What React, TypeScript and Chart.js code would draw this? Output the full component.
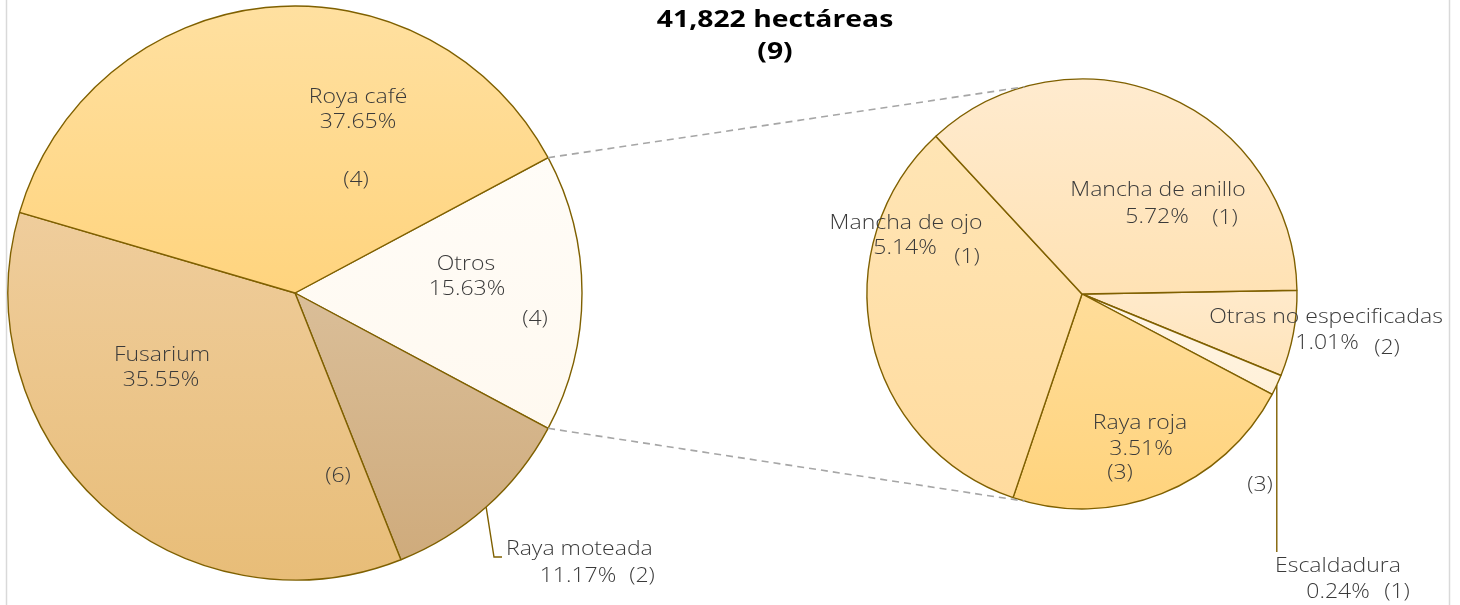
import React, { useEffect, useRef } from "react";
import { Chart, registerables } from "chart.js";
Chart.register(...registerables);

// ---------------- DATA ----------------
const titleLines = ["41,822 hectáreas", "(9)"];

const mainLabels = ["Otros", "Raya moteada", "Fusarium", "Roya café"];
const mainValues = [15.63, 11.17, 35.55, 37.65];
const mainCounts = ["(4)", "(2)", "(6)", "(4)"];

const subLabels = ["Otras no especificadas", "Escaldadura", "Raya roja", "Mancha de ojo", "Mancha de anillo"];
const subValues = [1.01, 0.24, 3.51, 5.14, 5.72];
const subCounts = ["(2)", "(1)", "(3)", "(1)", "(1)"];
const subExtraLabel = "(3)";

// ---------------- STYLE / LAYOUT ----------------
const W = 1460;
const H = 605;
const BORDER = "#7F6000";
const TEXT = "#3A3A3A";
const LABEL_FONT = '300 20px "Open Sans", sans-serif';
const LABEL_STRETCH = 1.15;
const TITLE_FONT = 'bold 24px "Open Sans", sans-serif';
const TITLE_STRETCH = 1.18;

const mainColors = [
  ["#FFFCF7", "#FFF9F0"],
  ["#DABE98", "#CFAB7C"],
  ["#EFCD9C", "#E8BD78"],
  ["#FFE0A0", "#FFD47E"],
];
const subColors = [
  ["#FFEACB", "#FFE4BA"],
  ["#FFF6E6", "#FFF0D8"],
  ["#FFDD9A", "#FFD37C"],
  ["#FFE5B5", "#FFDB9E"],
  ["#FFEBCF", "#FFE2B4"],
];

const MAIN_CX = 295, MAIN_CY = 293, MAIN_R = 287;
const SUB_CX = 1082, SUB_CY = 294, SUB_R = 215;
const mainRotation = 90 - (180 * mainValues[0]) / mainValues.reduce((a, b) => a + b, 0);
const subRotation = 89;
const connectorAngles = [-105.5, 105.5];

type Txt = { dx: number; dy: number; align?: CanvasTextAlign };
type Lay = { name: Txt; pct: Txt; count: Txt };

const mainLayout: Lay[] = [
  { name: { dx: 171, dy: -29 }, pct: { dx: 172, dy: -4 }, count: { dx: 240, dy: 26 } },
  { name: { dx: 211, dy: 256, align: "left" }, pct: { dx: 283, dy: 283 }, count: { dx: 347, dy: 283 } },
  { name: { dx: -133, dy: 62 }, pct: { dx: -134, dy: 87 }, count: { dx: 43, dy: 183 } },
  { name: { dx: 63, dy: -196 }, pct: { dx: 63, dy: -171 }, count: { dx: 61, dy: -113 } },
];
const subLayout: Lay[] = [
  { name: { dx: 244, dy: 23 }, pct: { dx: 245, dy: 49 }, count: { dx: 305, dy: 54 } },
  { name: { dx: 256, dy: 272 }, pct: { dx: 256, dy: 298 }, count: { dx: 315, dy: 298 } },
  { name: { dx: 58, dy: 129 }, pct: { dx: 59, dy: 155 }, count: { dx: 38, dy: 179 } },
  { name: { dx: -176, dy: -71 }, pct: { dx: -177, dy: -46 }, count: { dx: -115, dy: -37 } },
  { name: { dx: 76, dy: -104 }, pct: { dx: 75, dy: -77 }, count: { dx: 143, dy: -76 } },
];
const subExtraPos = { dx: 178, dy: 191 };

const mainLeader = { index: 1, points: [{ dx: 199, dy: 264 }, { dx: 207, dy: 264 }] };
const subLeaderIndex = 1;
const subLeaderBottom = 258;

// ---------------- HELPERS ----------------
function sliceBounds(cy: number, r: number, a0: number, a1: number) {
  const ys = [cy, cy + r * Math.sin(a0), cy + r * Math.sin(a1)];
  for (const t of [-Math.PI / 2, Math.PI / 2]) {
    for (let k = -2; k <= 2; k++) {
      const a = t + 2 * Math.PI * k;
      if (a >= a0 && a <= a1) ys.push(cy + r * Math.sin(a));
    }
  }
  return [Math.min(...ys), Math.max(...ys)];
}

function makeFill(colors: string[][], values: number[], rotationDeg: number, radius: number) {
  return (c: any) => {
    const chart = c.chart;
    const area = chart.chartArea;
    const i = c.dataIndex;
    if (i === undefined) return colors[0][0];
    if (!area) return colors[i][0];
    const cy = (area.top + area.bottom) / 2;
    const total = values.reduce((a, b) => a + b, 0);
    let start = ((rotationDeg - 90) * Math.PI) / 180;
    for (let k = 0; k < i; k++) start += (2 * Math.PI * values[k]) / total;
    const end = start + (2 * Math.PI * values[i]) / total;
    const [y0, y1] = sliceBounds(cy, radius, start, end);
    const g = chart.ctx.createLinearGradient(0, y0, 0, y1 + 0.01);
    g.addColorStop(0, colors[i][0]);
    g.addColorStop(1, colors[i][1]);
    return g;
  };
}

function drawText(
  ctx: CanvasRenderingContext2D,
  s: string,
  x: number,
  y: number,
  align: CanvasTextAlign = "center",
  stretch = LABEL_STRETCH
) {
  ctx.save();
  ctx.translate(x, y);
  ctx.scale(stretch, 1);
  ctx.textAlign = align;
  ctx.fillText(s, 0, 0);
  ctx.restore();
}

function drawSliceLabels(chart: any, labels: string[], values: number[], counts: string[], layout: Lay[]) {
  const ctx: CanvasRenderingContext2D = chart.ctx;
  const arc: any = chart.getDatasetMeta(0).data[0];
  const cx = arc.x, cy = arc.y;
  ctx.save();
  ctx.fillStyle = TEXT;
  ctx.font = LABEL_FONT;
  ctx.textBaseline = "middle";
  labels.forEach((lab, i) => {
    const L = layout[i];
    drawText(ctx, lab, cx + L.name.dx, cy + L.name.dy, L.name.align);
    drawText(ctx, values[i].toFixed(2) + "%", cx + L.pct.dx, cy + L.pct.dy, L.pct.align);
    drawText(ctx, counts[i], cx + L.count.dx, cy + L.count.dy, L.count.align);
  });
  ctx.restore();
}

function edgePoint(arc: any, angle: number) {
  return { x: arc.x + arc.outerRadius * Math.cos(angle), y: arc.y + arc.outerRadius * Math.sin(angle) };
}

// ---------------- COMPONENT ----------------
export default function App() {
  const mainRef = useRef<HTMLCanvasElement>(null);
  const subRef = useRef<HTMLCanvasElement>(null);

  useEffect(() => {
    document.body.style.margin = "0";
    const link: { main: Chart | null } = { main: null };

    const mainChart = new Chart(mainRef.current!, {
      type: "pie",
      data: {
        labels: mainLabels,
        datasets: [
          {
            data: mainValues,
            backgroundColor: makeFill(mainColors, mainValues, mainRotation, MAIN_R) as any,
            borderColor: BORDER,
            borderWidth: 1.4,
            radius: MAIN_R,
            rotation: mainRotation,
          } as any,
        ],
      },
      options: {
        responsive: false,
        animation: false,
        devicePixelRatio: 1,
        events: [],
        layout: {
          padding: {
            left: MAIN_CX - MAIN_R,
            right: W - (MAIN_CX + MAIN_R),
            top: MAIN_CY - MAIN_R,
            bottom: H - (MAIN_CY + MAIN_R),
          },
        },
        plugins: { legend: { display: false }, tooltip: { enabled: false } },
      },
      plugins: [
        {
          id: "frame",
          beforeDraw(chart: any) {
            const ctx = chart.ctx;
            ctx.save();
            ctx.fillStyle = "#FFFFFF";
            ctx.fillRect(0, 0, W, H);
            ctx.strokeStyle = "#D9D9D9";
            ctx.lineWidth = 1.5;
            ctx.beginPath();
            ctx.moveTo(6.5, 0);
            ctx.lineTo(6.5, H);
            ctx.moveTo(1449.5, 0);
            ctx.lineTo(1449.5, H);
            ctx.stroke();
            ctx.restore();
          },
        },
        {
          id: "mainLabels",
          afterDatasetsDraw(chart: any) {
            drawSliceLabels(chart, mainLabels, mainValues, mainCounts, mainLayout);
            const arc: any = chart.getDatasetMeta(0).data[mainLeader.index];
            const mid = (arc.startAngle + arc.endAngle) / 2;
            const p0 = edgePoint(arc, mid);
            const ctx = chart.ctx;
            ctx.save();
            ctx.strokeStyle = BORDER;
            ctx.lineWidth = 1.4;
            ctx.beginPath();
            ctx.moveTo(p0.x, p0.y);
            for (const p of mainLeader.points) ctx.lineTo(arc.x + p.dx, arc.y + p.dy);
            ctx.stroke();
            ctx.restore();
          },
        },
      ],
    });
    link.main = mainChart;

    const subChart = new Chart(subRef.current!, {
      type: "pie",
      data: {
        labels: subLabels,
        datasets: [
          {
            data: subValues,
            backgroundColor: makeFill(subColors, subValues, subRotation, SUB_R) as any,
            borderColor: BORDER,
            borderWidth: 1.4,
            radius: SUB_R,
            rotation: subRotation,
          } as any,
        ],
      },
      options: {
        responsive: false,
        animation: false,
        devicePixelRatio: 1,
        events: [],
        layout: {
          padding: {
            left: SUB_CX - SUB_R,
            right: W - (SUB_CX + SUB_R),
            top: SUB_CY - SUB_R,
            bottom: H - (SUB_CY + SUB_R),
          },
        },
        plugins: { legend: { display: false }, tooltip: { enabled: false } },
      },
      plugins: [
        {
          id: "subExtras",
          afterDatasetsDraw(chart: any) {
            const ctx: CanvasRenderingContext2D = chart.ctx;
            const subArc: any = chart.getDatasetMeta(0).data[0];
            if (link.main) {
              const mArc: any = link.main.getDatasetMeta(0).data[0];
              const a = edgePoint(mArc, mArc.startAngle);
              const b = edgePoint(mArc, mArc.endAngle);
              const ta = edgePoint(subArc, (connectorAngles[0] * Math.PI) / 180);
              const tb = edgePoint(subArc, (connectorAngles[1] * Math.PI) / 180);
              ctx.save();
              ctx.strokeStyle = "#A6A6A6";
              ctx.lineWidth = 1.6;
              ctx.setLineDash([7, 5]);
              ctx.beginPath();
              ctx.moveTo(a.x, a.y);
              ctx.lineTo(ta.x, ta.y);
              ctx.moveTo(b.x, b.y);
              ctx.lineTo(tb.x, tb.y);
              ctx.stroke();
              ctx.restore();
            }
            const la: any = chart.getDatasetMeta(0).data[subLeaderIndex];
            const mid = (la.startAngle + la.endAngle) / 2;
            const p0 = edgePoint(la, mid);
            ctx.save();
            ctx.strokeStyle = BORDER;
            ctx.lineWidth = 1.4;
            ctx.beginPath();
            ctx.moveTo(p0.x, p0.y);
            ctx.lineTo(p0.x, la.y + subLeaderBottom);
            ctx.stroke();
            ctx.restore();

            drawSliceLabels(chart, subLabels, subValues, subCounts, subLayout);
            ctx.save();
            ctx.fillStyle = TEXT;
            ctx.font = LABEL_FONT;
            ctx.textBaseline = "middle";
            drawText(ctx, subExtraLabel, subArc.x + subExtraPos.dx, subArc.y + subExtraPos.dy);
            ctx.fillStyle = "#000000";
            ctx.font = TITLE_FONT;
            drawText(ctx, titleLines[0], 775, 20, "center", TITLE_STRETCH);
            drawText(ctx, titleLines[1], 775, 52, "center", TITLE_STRETCH);
            ctx.restore();
          },
        },
      ],
    });

    return () => {
      subChart.destroy();
      mainChart.destroy();
    };
  }, []);

  return (
    <div style={{ position: "fixed", left: 0, top: 0, width: W, height: H, background: "#fff" }}>
      <canvas ref={mainRef} width={W} height={H} style={{ position: "absolute", left: 0, top: 0 }} />
      <canvas ref={subRef} width={W} height={H} style={{ position: "absolute", left: 0, top: 0 }} />
    </div>
  );
}
